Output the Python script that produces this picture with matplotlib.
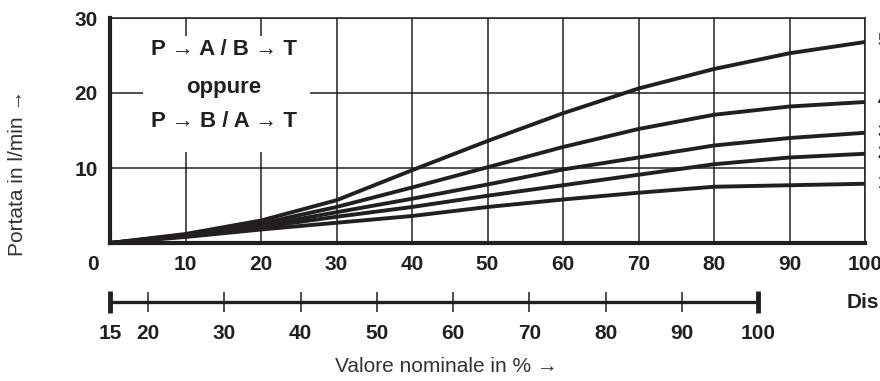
import matplotlib.pyplot as plt
from matplotlib.patches import Rectangle

# --- Data ---
stroke = [0, 10, 20, 30, 40, 50, 60, 70, 80, 90, 100]   # % of spool stroke
flow_1 = [0, 0.8, 1.8, 2.7, 3.6, 4.8, 5.8, 6.7, 7.5, 7.7, 7.9]
flow_2 = [0, 0.9, 2.1, 3.5, 4.8, 6.3, 7.7, 9.1, 10.5, 11.4, 11.9]
flow_3 = [0, 1.0, 2.3, 4.1, 5.9, 7.8, 9.8, 11.4, 13.0, 14.0, 14.7]
flow_4 = [0, 1.1, 2.6, 4.8, 7.4, 10.1, 12.8, 15.2, 17.1, 18.2, 18.8]
flow_5 = [0, 1.2, 3.0, 5.7, 9.7, 13.6, 17.3, 20.6, 23.2, 25.3, 26.8]
curves = [flow_1, flow_2, flow_3, flow_4, flow_5]
curve_names = ["1", "2", "3", "4", "5"]

x_ticks = [10, 20, 30, 40, 50, 60, 70, 80, 90, 100]
y_ticks = [10, 20, 30]
nominal_ticks = [20, 30, 40, 50, 60, 70, 80, 90]
nominal_ends = [15, 100]

INK = "#231f20"
SANS = ["Liberation Sans", "DejaVu Sans"]
plt.rcParams["font.family"] = SANS

fig = plt.figure(figsize=(8.8, 3.81), dpi=100)
W, H = 880, 381

# main chart area in pixels
left, right, bottom, top = 110, 865, 243, 18
ax = fig.add_axes([left / W, 1 - bottom / H, (right - left) / W, (bottom - top) / H])
ax.set_xlim(0, 100)
ax.set_ylim(0, 30)

for ys in curves:
    ax.plot(stroke, ys, color=INK, lw=2.8, solid_capstyle="butt", zorder=3, clip_on=False)

ax.set_axisbelow(True)
ax.grid(True, color=INK, lw=1.1)

ax.set_xticks(x_ticks)
ax.set_yticks(y_ticks)
ax.tick_params(length=0, pad=9, labelsize=15, labelcolor=INK)
for lab in ax.get_xticklabels() + ax.get_yticklabels():
    lab.set_weight("bold")

# shared origin label sits left of the axis corner
ax.annotate("0", xy=(0, 0), xycoords="axes fraction", xytext=(-12, -9),
            textcoords="offset points", ha="center", va="top",
            fontsize=15, fontweight="bold", color=INK)

for side in ["left", "bottom"]:
    ax.spines[side].set_linewidth(3.0)
for side in ["top", "right"]:
    ax.spines[side].set_linewidth(1.1)
for sp in ax.spines.values():
    sp.set_color(INK)

# text box that blanks the grid behind it
ax.add_patch(Rectangle((4.4, 12.2), 22.1, 15.4, facecolor="white", edgecolor="none", zorder=1))
box_kw = dict(ha="center", va="center", fontsize=16, fontweight="bold", color=INK, zorder=4)
ax.text(15.1, 25.8, "P \u2192 A / B \u2192 T", **box_kw)
ax.text(15.1, 20.8, "oppure", **box_kw)
ax.text(15.1, 16.2, "P \u2192 B / A \u2192 T", **box_kw)

# curve numbers, right of the frame
for ys, name in zip(curves, curve_names):
    ax.annotate(name, xy=(100, ys[-1]), xytext=(9.2, 0), textcoords="offset points",
                ha="left", va="center", fontsize=14, fontweight="bold",
                color=INK, annotation_clip=False)

ax.set_ylabel("Portata in l/min \u2192", fontsize=15, color="#333333")
ax.yaxis.set_label_coords(-83 / (right - left), (bottom - 173) / (bottom - top))

# nominal value scale under the chart
sx0, sx1, sy = 110, 758, 302
sc = fig.add_axes([sx0 / W, 1 - sy / H, (sx1 - sx0) / W, 0.0001])
sc.set_xlim(15, 100)
sc.set_yticks([])
for side in ["left", "right", "top"]:
    sc.spines[side].set_visible(False)
sc.spines["bottom"].set_linewidth(2.4)
sc.spines["bottom"].set_color(INK)
sc.set_xticks(nominal_ticks, labels=[str(v) for v in nominal_ticks])
sc.set_xticks(nominal_ends, labels=[str(v) for v in nominal_ends], minor=True)
sc.tick_params(which="major", direction="inout", length=15, width=1.1, color=INK, pad=8)
sc.tick_params(which="minor", direction="inout", length=16, width=3.5, color=INK, pad=7.6)
for lab in sc.get_xticklabels(which="both"):
    lab.set_weight("bold")
    lab.set_fontsize(15)
    lab.set_color(INK)
sc.patch.set_visible(False)

fig.text(847 / W, 1 - sy / H, "Dis", ha="left", va="center", fontsize=15,
         fontweight="bold", color=INK)
fig.text(446 / W, 1 - 367 / H, "Valore nominale in % \u2192", ha="center", va="center",
         fontsize=15, color="#333333")

fig.savefig("out.png", dpi=100)
